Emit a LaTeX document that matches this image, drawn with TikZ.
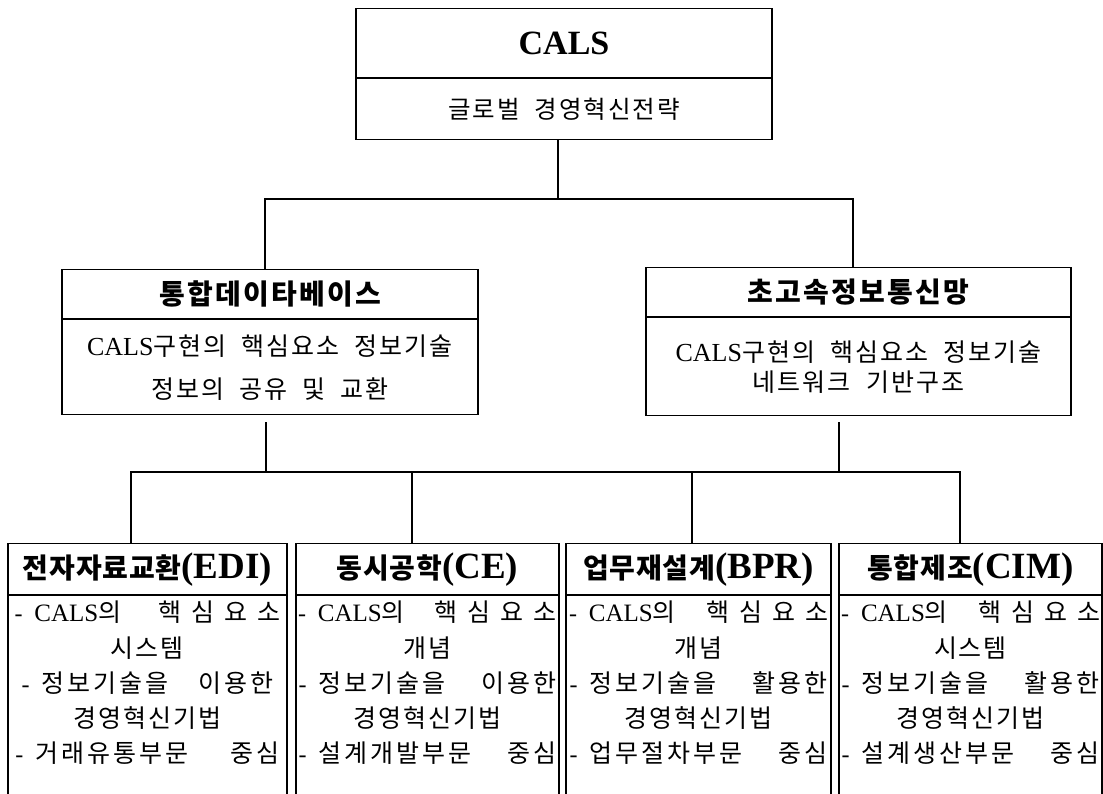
\documentclass[tikz,border=0pt]{standalone}
\usepackage{fontspec}
\setmainfont{Liberation Serif}
\newfontfamily\kr[LetterSpace=8,WordSpace=2]{Noto Sans CJK KR}
\newfontfamily\krA[LetterSpace=40,WordSpace=2]{Noto Sans CJK KR}
\newfontfamily\krC[LetterSpace=12,WordSpace=2]{Noto Sans CJK KR}
\newfontfamily\kb[LetterSpace=3,WordSpace=2]{Noto Sans CJK KR}
\usetikzlibrary{calc}
\newcommand\fsz[2]{\fontsize{#1}{#2}\selectfont}
\newcommand\fl[2]{\makebox[#1][s]{#2}}
\newcommand\dsh{{\rmfamily\fsz{24pt}{35.25pt}-}\hspace{12pt}}
\newcommand\cals{{\rmfamily\fsz{25pt}{35.25pt}CALS}}
\begin{document}
\begin{tikzpicture}[x=1pt,y=-1pt,
  box/.style={draw, line width=1.2pt, inner sep=0pt, align=center},
  conn/.style={line width=1.2pt},
  bh/.style={box, anchor=north, minimum height=51pt, font=\fsz{28pt}{32pt}\kb\bfseries},
  bb/.style={box, anchor=north, inner ysep=8pt, text height=159pt, text depth=60pt, font=\fsz{25pt}{35.25pt}\kr}]
\useasboundingbox (0,0) rectangle (1103,793);
\clip (0,0) rectangle (1103,793);
\fill[white] (0,0) rectangle (1103,793);

% top box
\node[box, anchor=north, minimum width=416pt, minimum height=69pt, font=\fsz{34pt}{40pt}\bfseries] (topH) at (564,8) {CALS};
\node[box, anchor=north, minimum width=416pt, minimum height=61pt, font=\fsz{24.5pt}{26pt}\kr] (topB) at (topH.south) {글로벌 경영혁신전략};

% middle boxes
\node[box, anchor=north, minimum width=416pt, minimum height=49pt, font=\fsz{28pt}{30pt}\kr\bfseries] (mLH) at (270,269) {통합데이타베이스};
\node[box, anchor=north, minimum width=416pt, minimum height=95pt, font=\fsz{25pt}{43pt}] (mLB) at (mLH.south) {{\fsz{26pt}{43pt}CALS}{\kr 구현의 핵심요소 정보기술}\\{\kr 정보의 공유 및 교환}};

\node[box, anchor=north, minimum width=425pt, minimum height=49pt, font=\fsz{28pt}{30pt}\kr\bfseries] (mRH) at (858.5,267) {초고속정보통신망};
\node[box, anchor=north, minimum width=425pt, minimum height=98pt, font=\fsz{25pt}{30pt}] (mRB) at (mRH.south) {{\fsz{26pt}{30pt}CALS}{\kr 구현의 핵심요소 정보기술}\\{\kr 네트워크 기반구조}};

% bottom boxes
\node[bh, minimum width=279pt] (b1H) at (147.5,543) {전자자료교환{\rmfamily\fsz{37pt}{32pt}(EDI)}};
\node[bb, minimum width=279pt] (b1B) at (b1H.south) {\fl{266pt}{\dsh\cals{\krA 의 핵심요소}}\\시스템\\\fl{252pt}{\dsh{\krC 정보기술을 이용한}}\\경영혁신기법\\\fl{264pt}{\dsh{\krC 거래유통부문 중심}}};

\node[bh, minimum width=263pt] (b2H) at (427.5,543) {동시공학{\rmfamily\fsz{37pt}{32pt}(CE)}};
\node[bb, minimum width=263pt] (b2B) at (b2H.south) {\fl{259pt}{\dsh\cals{\krA 의 핵심요소}}\\개념\\\fl{258pt}{\dsh{\krC 정보기술을 이용한}}\\경영혁신기법\\\fl{258pt}{\dsh{\krC 설계개발부문 중심}}};

\node[bh, minimum width=265pt] (b3H) at (698.5,543) {업무재설계{\rmfamily\fsz{37pt}{32pt}(BPR)}};
\node[bb, minimum width=265pt] (b3B) at (b3H.south) {\fl{259pt}{\dsh\cals{\krA 의 핵심요소}}\\개념\\\fl{258pt}{\dsh{\krC 정보기술을 활용한}}\\경영혁신기법\\\fl{258pt}{\dsh{\krC 업무절차부문 중심}}};

\node[bh, minimum width=263pt] (b4H) at (970.5,543) {통합제조{\rmfamily\fsz{37pt}{32pt}(CIM)}};
\node[bb, minimum width=263pt] (b4B) at (b4H.south) {\fl{259pt}{\dsh\cals{\krA 의 핵심요소}}\\시스템\\\fl{258pt}{\dsh{\krC 정보기술을 활용한}}\\경영혁신기법\\\fl{258pt}{\dsh{\krC 설계생산부문 중심}}};

% connectors
\coordinate (a) at (558,199);
\coordinate (aL) at (265,199);
\coordinate (aR) at (853,199);
\draw[conn] (topB.south -| a) -- (a);
\draw[conn] (mLH.north -| aL) -- (aL) -- (aR) -- (mRH.north -| aR);

\coordinate (bL) at (266,472);
\coordinate (bR) at (839,472);
\coordinate (d1) at (131,472);
\coordinate (d2) at (412,472);
\coordinate (d3) at (692,472);
\coordinate (d4) at (960,472);
\draw[conn] ($(mLB.south -| bL)+(0,7)$) -- (bL);
\draw[conn] ($(mRB.south -| bR)+(0,6)$) -- (bR);
\draw[conn] (b1H.north -| d1) -- (d1) -- (d4) -- (b4H.north -| d4);
\draw[conn] (d2) -- (b2H.north -| d2);
\draw[conn] (d3) -- (b3H.north -| d3);
\end{tikzpicture}
\end{document}
